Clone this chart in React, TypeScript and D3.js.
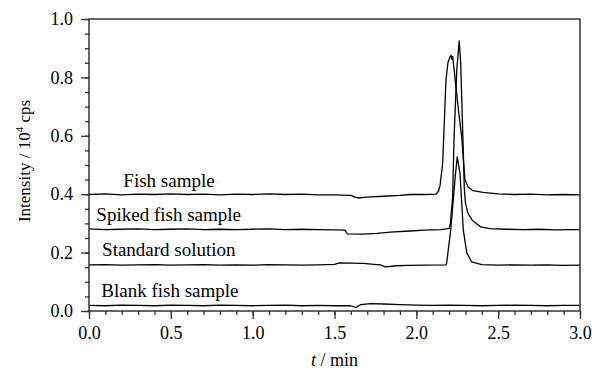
import { useRef, useEffect } from "react";
import * as d3 from "d3";

// [t (min), intensity (10^4 cps)]
const fishSample: [number, number][] = [
  [0.0, 0.399], [0.1, 0.401], [0.2, 0.398], [0.3, 0.4], [0.4, 0.399], [0.5, 0.401],
  [0.6, 0.399], [0.7, 0.4], [0.8, 0.398], [0.9, 0.4], [1.0, 0.399], [1.1, 0.401],
  [1.2, 0.399], [1.3, 0.4], [1.4, 0.398], [1.5, 0.398], [1.6, 0.396], [1.625, 0.39],
  [1.645, 0.387], [1.68, 0.389], [1.72, 0.391], [1.8, 0.393], [1.9, 0.396], [1.96, 0.399],
  [2.05, 0.399], [2.12, 0.4], [2.135, 0.41], [2.145, 0.43], [2.161, 0.507], [2.169, 0.62],
  [2.181, 0.79], [2.193, 0.85], [2.205, 0.87], [2.212, 0.875], [2.217, 0.862], [2.222, 0.872],
  [2.236, 0.8], [2.255, 0.7], [2.279, 0.585], [2.29, 0.5], [2.297, 0.45], [2.316, 0.425],
  [2.346, 0.412], [2.407, 0.406], [2.5, 0.401], [2.6, 0.399], [2.7, 0.4], [2.8, 0.398],
  [2.9, 0.399], [3.0, 0.398],
];

const spikedFishSample: [number, number][] = [
  [0.0, 0.281], [0.1, 0.279], [0.2, 0.28], [0.3, 0.281], [0.4, 0.279], [0.5, 0.28],
  [0.6, 0.281], [0.7, 0.279], [0.8, 0.28], [0.9, 0.279], [1.0, 0.28], [1.1, 0.281],
  [1.2, 0.279], [1.3, 0.28], [1.4, 0.279], [1.5, 0.278], [1.564, 0.277], [1.578, 0.264],
  [1.675, 0.263], [1.76, 0.266], [1.84, 0.27], [1.96, 0.274], [2.05, 0.277], [2.15, 0.279],
  [2.2, 0.283], [2.208, 0.3], [2.222, 0.39], [2.23, 0.585], [2.247, 0.825], [2.262, 0.925],
  [2.271, 0.85], [2.285, 0.585], [2.293, 0.42], [2.3, 0.37], [2.315, 0.335], [2.343, 0.31],
  [2.393, 0.288], [2.45, 0.282], [2.55, 0.28], [2.65, 0.279], [2.75, 0.28], [2.85, 0.278],
  [2.95, 0.279], [3.0, 0.279],
];

const standardSolution: [number, number][] = [
  [0.0, 0.158], [0.1, 0.159], [0.2, 0.157], [0.3, 0.158], [0.4, 0.159], [0.5, 0.157],
  [0.6, 0.158], [0.7, 0.159], [0.8, 0.157], [0.9, 0.158], [1.0, 0.157], [1.1, 0.159],
  [1.2, 0.158], [1.3, 0.157], [1.4, 0.158], [1.5, 0.16], [1.53, 0.165], [1.6, 0.164],
  [1.675, 0.163], [1.74, 0.16], [1.78, 0.158], [1.81, 0.151], [1.88, 0.155], [1.95, 0.156],
  [2.05, 0.157], [2.18, 0.158], [2.185, 0.163], [2.21, 0.277], [2.236, 0.45], [2.25, 0.528],
  [2.267, 0.47], [2.287, 0.277], [2.308, 0.2], [2.338, 0.168], [2.4, 0.159], [2.5, 0.157],
  [2.6, 0.158], [2.7, 0.157], [2.8, 0.158], [2.9, 0.156], [3.0, 0.157],
];

const blankFishSample: [number, number][] = [
  [0.0, 0.019], [0.1, 0.018], [0.2, 0.02], [0.3, 0.019], [0.4, 0.018], [0.5, 0.02],
  [0.6, 0.019], [0.7, 0.018], [0.8, 0.02], [0.9, 0.019], [1.0, 0.018], [1.1, 0.019],
  [1.2, 0.02], [1.3, 0.018], [1.4, 0.019], [1.5, 0.018], [1.6, 0.018], [1.63, 0.012],
  [1.66, 0.022], [1.72, 0.025], [1.8, 0.024], [1.9, 0.022], [2.0, 0.02], [2.1, 0.019],
  [2.2, 0.02], [2.3, 0.019], [2.4, 0.018], [2.5, 0.019], [2.6, 0.02], [2.7, 0.019],
  [2.8, 0.018], [2.9, 0.019], [3.0, 0.019],
];

const seriesNames = ["Fish sample", "Spiked fish sample", "Standard solution", "Blank fish sample"];
// label anchor [t, intensity] for each trace caption
const labelPositions: [number, number][] = [
  [0.21, 0.426], [0.045, 0.307], [0.08, 0.187], [0.075, 0.049],
];

const xTicks = [0, 0.5, 1, 1.5, 2, 2.5, 3];
const yTicks = [0, 0.2, 0.4, 0.6, 0.8, 1.0];

const Chromatogram = () => {
  const svgRef = useRef<SVGSVGElement>(null);

  useEffect(() => {
    const width = 592;
    const height = 374;
    const margin = { top: 19, right: 12, bottom: 63, left: 89 };
    const font = "'Liberation Serif', 'Times New Roman', serif";

    const svg = d3.select(svgRef.current).attr("width", width).attr("height", height);
    svg.selectAll("*").remove();

    const x = d3.scaleLinear().domain([0, 3]).range([margin.left, width - margin.right]);
    const y = d3.scaleLinear().domain([0, 1]).range([height - margin.bottom, margin.top]);

    const line = d3
      .line<[number, number]>()
      .x((d) => x(d[0]))
      .y((d) => y(d[1]));

    const all = [fishSample, spikedFishSample, standardSolution, blankFishSample];

    svg
      .append("g")
      .selectAll("path")
      .data(all)
      .join("path")
      .attr("d", (d) => line(d))
      .attr("fill", "none")
      .attr("stroke", "#000")
      .attr("stroke-width", 1.3)
      .attr("stroke-linejoin", "round");

    // frame
    svg
      .append("rect")
      .attr("x", x(0))
      .attr("y", y(1))
      .attr("width", x(3) - x(0))
      .attr("height", y(0) - y(1))
      .attr("fill", "none")
      .attr("stroke", "#333")
      .attr("stroke-width", 1.5);

    // minor ticks
    svg
      .append("g")
      .attr("transform", `translate(0,${y(0)})`)
      .call(d3.axisBottom(x).tickValues(d3.range(0, 31).map((i) => i / 10)).tickSize(4).tickFormat(() => ""))
      .call((g) => g.select(".domain").remove());
    svg
      .append("g")
      .attr("transform", `translate(${x(0)},0)`)
      .call(d3.axisLeft(y).tickValues(d3.range(0, 21).map((i) => i / 20)).tickSize(4).tickFormat(() => ""))
      .call((g) => g.select(".domain").remove());

    // major ticks
    const xAxis = svg
      .append("g")
      .attr("transform", `translate(0,${y(0)})`)
      .call(d3.axisBottom(x).tickValues(xTicks).tickSize(8).tickPadding(7).tickFormat(d3.format(".1f")));
    const yAxis = svg
      .append("g")
      .attr("transform", `translate(${x(0)},0)`)
      .call(d3.axisLeft(y).tickValues(yTicks).tickSize(8).tickPadding(8).tickFormat(d3.format(".1f")));

    [xAxis, yAxis].forEach((g) => {
      g.select(".domain").remove();
      g.attr("font-family", font).attr("font-size", 18);
      g.selectAll("text")
        .attr("font-family", font)
        .style("font-family", font)
        .attr("font-size", 18)
        .attr("fill", "#000");
    });
    svg.selectAll(".tick line").attr("stroke", "#333").attr("stroke-width", 1.3);

    // trace captions
    svg
      .append("g")
      .selectAll("text")
      .data(seriesNames)
      .join("text")
      .attr("x", (_, i) => x(labelPositions[i][0]))
      .attr("y", (_, i) => y(labelPositions[i][1]))
      .attr("font-family", font)
      .attr("font-size", 19)
      .text((d) => d);

    // axis titles
    const xt = svg
      .append("text")
      .attr("x", (x(0) + x(3)) / 2)
      .attr("y", 366)
      .attr("text-anchor", "middle")
      .attr("font-family", font)
      .attr("font-size", 18);
    xt.append("tspan").attr("font-style", "italic").text("t");
    xt.append("tspan").text(" / min");

    const yt = svg
      .append("text")
      .attr("transform", `translate(30,${(y(0) + y(1)) / 2 - 4}) rotate(-90)`)
      .attr("text-anchor", "middle")
      .attr("font-family", font)
      .attr("font-size", 17);
    yt.append("tspan").text("Intensity / 10");
    yt.append("tspan").attr("font-size", 11).attr("dy", -7).text("4");
    yt.append("tspan").attr("dy", 7).text(" cps");
  }, []);

  return <svg ref={svgRef} style={{ position: "absolute", left: 0, top: 0 }} />;
};

export default function App() {
  return <Chromatogram />;
}
